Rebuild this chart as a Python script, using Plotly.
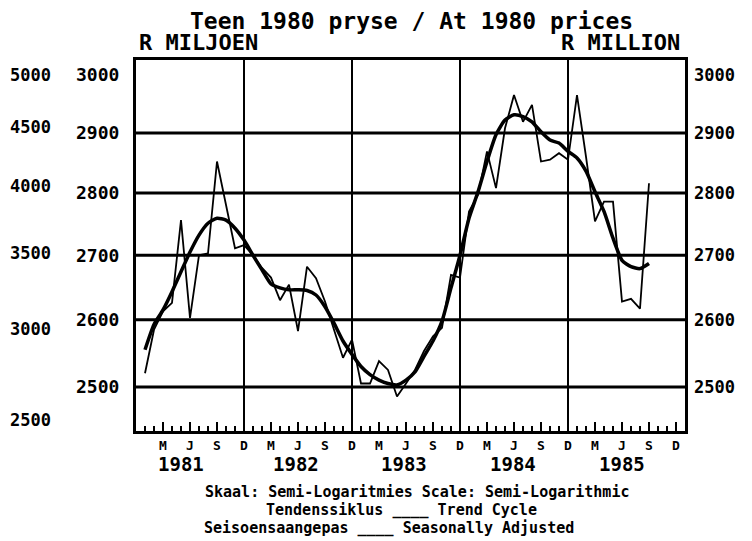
import math
import plotly.graph_objects as go

# ---- data (month index: 1 = Jan 1981) ----
months = list(range(1, 58))
seasonally_adjusted = [
    2520, 2585, 2613, 2626, 2756, 2603, 2700, 2703, 2852, 2781, 2711, 2716,
    2700, 2680, 2665, 2630, 2654, 2583, 2682, 2664, 2628, 2585, 2543, 2570,
    2505, 2505, 2538, 2525, 2486, 2505, 2525, 2553, 2575, 2588, 2669, 2665,
    2770, 2797, 2869, 2808, 2908, 2965, 2919, 2948, 2852, 2855, 2866, 2855,
    2965, 2860, 2754, 2786, 2786, 2628, 2632, 2617, 2816,
]
trend_cycle = [
    2555, 2593, 2615, 2643, 2674, 2705, 2732, 2751, 2759, 2756, 2743, 2724,
    2700, 2677, 2655, 2649, 2646, 2646, 2645, 2638, 2620, 2595, 2568, 2548,
    2530, 2518, 2510, 2505, 2503, 2510, 2522, 2545, 2568, 2598, 2649, 2700,
    2759, 2802, 2852, 2897, 2922, 2931, 2928, 2919, 2902, 2888, 2883, 2869,
    2858, 2836, 2802, 2770, 2727, 2692, 2682, 2679, 2687,
]
years = ["1981", "1982", "1983", "1984", "1985"]
quarter_labels = ["M", "J", "S", "D"]
y_ticks = [2500, 2600, 2700, 2800, 2900, 3000]
grid_levels = [2500, 2600, 2700, 2800, 2900]
ghost_ticks = [2500, 3000, 3500, 4000, 4500, 5000]

FONT = "DejaVu Sans Mono"
BLACK = "#000000"

fig = go.Figure()
fig.add_trace(go.Scatter(x=months, y=seasonally_adjusted, mode="lines",
                         line=dict(color=BLACK, width=1.8), name="Seasonally Adjusted",
                         showlegend=False))
fig.add_trace(go.Scatter(x=months, y=trend_cycle, mode="lines",
                         line=dict(color=BLACK, width=3.5, shape="spline", smoothing=0.6),
                         name="Trend Cycle", showlegend=False))
# empty traces to activate the extra scales
fig.add_trace(go.Scatter(x=[None], y=[None], yaxis="y3", showlegend=False))
fig.add_trace(go.Scatter(x=[None], y=[None], yaxis="y2", showlegend=False))


def px_x(px):
    return (px - 136) / 549


def px_y(py):
    return (431 - py) / 371


# grid lines
shapes = []
for g in grid_levels:
    shapes.append(dict(type="line", xref="paper", x0=0, x1=1, yref="y", y0=g, y1=g,
                       line=dict(color=BLACK, width=3), layer="below"))
for k in range(1, len(years)):
    shapes.append(dict(type="line", xref="x", x0=12 * k, x1=12 * k, yref="paper", y0=0, y1=1,
                       line=dict(color=BLACK, width=2), layer="below"))
# small scan mark at the far left edge
shapes.append(dict(type="line", xref="paper", x0=px_x(1), x1=px_x(1), yref="paper",
                   y0=px_y(100), y1=px_y(58), line=dict(color=BLACK, width=2)))

yr = [math.log10(2436.4), math.log10(3026.4)]
y3r = [math.log10(2447), math.log10(5153)]

tick_vals = [3 * i for i in range(1, 21)]
tick_text = [quarter_labels[i % 4] for i in range(20)]

year_label_x = [5.0, 17.8, 29.8, 41.9, 54.0]
annotations = []
for yname, xpos in zip(years, year_label_x):
    annotations.append(dict(text=f"<b>{yname}</b>", xref="x", x=xpos, yref="paper", y=px_y(464),
                            showarrow=False, font=dict(family=FONT, size=19, color=BLACK),
                            xanchor="center", yanchor="middle"))

texts = [
    ("<b>Teen 1980 pryse / At 1980 prices</b>", 411, 21, 23, "center"),
    ("<b>R MILJOEN</b>", 137, 43, 22, "left"),
    ("<b>R MILLION</b>", 682, 43, 22, "right"),
    ("<b>Skaal: Semi-Logaritmies Scale: Semi-Logarithmic</b>", 417, 492, 15, "center"),
    ("<b>Tendenssiklus ____ Trend Cycle</b>", 401, 510, 15, "center"),
    ("<b>Seisoensaangepas ____ Seasonally Adjusted</b>", 389, 528, 15, "center"),
]
for t, x, y, s, anc in texts:
    annotations.append(dict(text=t, xref="paper", x=px_x(x), yref="paper", y=px_y(y),
                            showarrow=False, font=dict(family=FONT, size=s, color=BLACK),
                            xanchor=anc, yanchor="middle"))

fig.update_layout(
    width=744, height=533,
    margin=dict(l=128, r=67, t=52, b=110, autoexpand=False),
    paper_bgcolor="white", plot_bgcolor="white",
    shapes=shapes, annotations=annotations,
    xaxis=dict(range=[0, 61], showgrid=False, zeroline=False, automargin=False,
               showline=True, mirror=True, linecolor=BLACK, linewidth=3,
               tickmode="array", tickvals=tick_vals, ticktext=tick_text,
               ticks="inside", ticklen=9, tickwidth=2, tickcolor=BLACK,
               tickfont=dict(family=FONT, size=13, color=BLACK, weight="bold"),
               minor=dict(tickmode="array", tickvals=list(range(0, 61)), ticks="inside",
                          ticklen=5, tickwidth=1.5, tickcolor=BLACK)),
    yaxis=dict(type="log", range=yr, showgrid=False, zeroline=False, automargin=False,
               showline=True, mirror=True, linecolor=BLACK, linewidth=3,
               tickmode="array", tickvals=y_ticks, ticktext=[str(v) for v in y_ticks],
               ticks="", ticklabelstandoff=10,
               tickfont=dict(family=FONT, size=18, color=BLACK, weight="bold")),
    yaxis2=dict(type="log", range=yr, overlaying="y", side="right", anchor="x", automargin=False,
                showgrid=False, zeroline=False, showline=False,
                tickmode="array", tickvals=y_ticks, ticktext=[str(v) for v in y_ticks],
                ticks="", ticklabelstandoff=8,
                tickfont=dict(family=FONT, size=17, color=BLACK, weight="bold")),
    yaxis3=dict(type="log", range=y3r, overlaying="y", side="left", anchor="x", automargin=False,
                showgrid=False, zeroline=False, showline=False,
                tickmode="array", tickvals=ghost_ticks, ticktext=[str(v) for v in ghost_ticks],
                ticks="", ticklabelstandoff=84,
                tickfont=dict(family=FONT, size=17, color=BLACK, weight="bold")),
)

fig.write_html("out.html")
